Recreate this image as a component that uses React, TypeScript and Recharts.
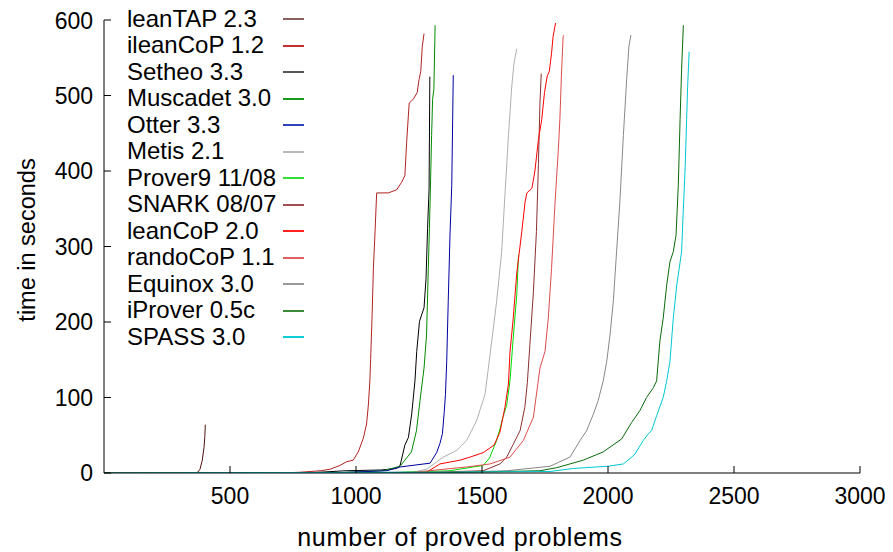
import { Legend, Line, LineChart, XAxis, YAxis } from "recharts"

type Pt = [number, number]

// time (s) against number of proved problems
const leanTAP: Pt[] = [[0, 0], [360, 0], [372, 1], [381, 5], [390, 17], [397, 34], [400, 48], [402, 64]]
const ileanCoP: Pt[] = [
  [0, 0], [700, 0], [778, 1], [860, 3], [897, 5], [936, 10], [963, 15], [989, 17], [1009, 28], [1029, 46],
  [1042, 65], [1049, 90], [1055, 122], [1058, 150], [1064, 210], [1069, 271], [1075, 315], [1082, 371],
  [1128, 371], [1161, 375], [1181, 385], [1194, 394], [1201, 438], [1211, 490], [1227, 495], [1243, 504],
  [1250, 521], [1257, 532], [1263, 565], [1270, 582],
]
const setheo: Pt[] = [
  [0, 0], [800, 0], [960, 3], [1100, 4], [1161, 6], [1175, 10], [1194, 37], [1208, 47], [1221, 78],
  [1234, 122], [1241, 161], [1252, 201], [1270, 219], [1278, 258], [1284, 324], [1290, 376], [1293, 525],
]
const muscadet: Pt[] = [
  [0, 0], [900, 0], [1108, 3], [1175, 9], [1220, 28], [1240, 56], [1254, 96], [1270, 139], [1280, 183],
  [1287, 271], [1294, 359], [1300, 447], [1304, 495], [1309, 508], [1314, 593],
]
const otter: Pt[] = [
  [0, 0], [900, 0], [1122, 3], [1175, 8], [1294, 13], [1320, 27], [1333, 39], [1343, 52], [1350, 80],
  [1355, 104], [1360, 148], [1366, 227], [1373, 315], [1380, 381], [1386, 527],
]
const metis: Pt[] = [
  [0, 0], [1000, 0], [1240, 2], [1280, 5], [1346, 21], [1400, 30], [1439, 43], [1478, 69], [1512, 104],
  [1532, 157], [1558, 227], [1578, 293], [1591, 368], [1605, 447], [1618, 512], [1627, 543], [1638, 562],
]
const prover9: Pt[] = [
  [0, 0], [1100, 0], [1373, 3], [1466, 8], [1505, 10], [1530, 20], [1558, 43], [1571, 58], [1584, 75],
  [1598, 90], [1611, 122], [1624, 179], [1638, 236], [1645, 289],
]
const snark: Pt[] = [
  [0, 0], [1200, 0], [1505, 3], [1571, 12], [1598, 21], [1624, 38], [1651, 56], [1670, 87], [1680, 120],
  [1690, 170], [1704, 240], [1716, 320], [1724, 410], [1730, 490], [1735, 529],
]
const leanCoP: Pt[] = [
  [0, 0], [1200, 0], [1280, 1], [1333, 12], [1413, 17], [1452, 21], [1505, 27], [1548, 37], [1571, 54],
  [1591, 87], [1605, 118], [1611, 160], [1624, 205], [1638, 265], [1658, 320], [1671, 359], [1678, 371],
  [1698, 377], [1710, 400], [1724, 442], [1737, 468], [1748, 504], [1759, 526], [1767, 532], [1776, 556],
  [1782, 578], [1792, 596],
]
const randoCoP: Pt[] = [
  [0, 0], [1200, 0], [1439, 8], [1532, 12], [1611, 21], [1664, 43], [1704, 74], [1730, 139], [1750, 161],
  [1763, 205], [1776, 271], [1790, 359], [1803, 429], [1809, 468], [1816, 534], [1822, 578], [1825, 580],
]
const equinox: Pt[] = [
  [0, 0], [1300, 0], [1600, 3], [1770, 9], [1849, 21], [1889, 43], [1915, 56], [1942, 78], [1961, 96],
  [1981, 122], [1995, 148], [2008, 183], [2021, 227], [2034, 293], [2047, 359], [2061, 447], [2074, 521],
  [2083, 565], [2091, 580],
]
const iProver: Pt[] = [
  [0, 0], [1300, 0], [1730, 3], [1796, 7], [1902, 17], [1981, 28], [2054, 45], [2094, 67], [2127, 83],
  [2153, 100], [2180, 113], [2193, 122], [2206, 175], [2219, 205], [2233, 249], [2246, 280], [2259, 293],
  [2270, 315], [2279, 381], [2286, 468], [2292, 534], [2299, 593],
]
const spass: Pt[] = [
  [0, 0], [1333, 1], [1770, 2], [1862, 6], [2001, 9], [2061, 12], [2087, 19], [2107, 25], [2127, 36],
  [2140, 43], [2160, 52], [2173, 56], [2193, 76], [2219, 100], [2233, 122], [2246, 148], [2259, 205],
  [2273, 249], [2292, 293], [2299, 350], [2306, 403], [2312, 468], [2316, 512], [2322, 558],
]

const xTicks = [500, 1000, 1500, 2000, 2500, 3000]
const yTicks = [0, 100, 200, 300, 400, 500, 600]

const series = [
  { name: "leanTAP 2.3", color: "#501010", key: "#8a6060", points: leanTAP },
  { name: "ileanCoP 1.2", color: "#b22222", key: "#c03030", points: ileanCoP },
  { name: "Setheo 3.3", color: "#000000", key: "#555555", points: setheo },
  { name: "Muscadet 3.0", color: "#008a00", key: "#1a9a1a", points: muscadet },
  { name: "Otter 3.3", color: "#0000a0", key: "#3344bb", points: otter },
  { name: "Metis 2.1", color: "#b0b0b0", key: "#b8b8b8", points: metis },
  { name: "Prover9 11/08", color: "#00dd00", key: "#33dd33", points: prover9 },
  { name: "SNARK 08/07", color: "#8b3030", key: "#a05050", points: snark },
  { name: "leanCoP 2.0", color: "#ff0000", key: "#ff2020", points: leanCoP },
  { name: "randoCoP 1.1", color: "#dc4c4c", key: "#dc6060", points: randoCoP },
  { name: "Equinox 3.0", color: "#888888", key: "#999999", points: equinox },
  { name: "iProver 0.5c", color: "#0a6a0a", key: "#3a8a3a", points: iProver },
  { name: "SPASS 3.0", color: "#00c8d2", key: "#10cdd6", points: spass },
]

const FONT = '"Liberation Sans", Arial, sans-serif'

function KeyBox() {
  return (
    <div style={{ fontFamily: FONT, fontSize: 24, color: "#000" }}>
      {series.map((s) => (
        <div key={s.name} style={{ position: "relative", height: 26.5, lineHeight: "26.5px", whiteSpace: "nowrap" }}>
          <span>{s.name}</span>
          <div style={{ position: "absolute", left: 156, top: 12.5, width: 21, height: 2, backgroundColor: s.key }} />
        </div>
      ))}
    </div>
  )
}

export default function App() {
  return (
    <LineChart width={877} height={544} margin={{ top: 12, right: 25, left: 0, bottom: 0 }} style={{ fontFamily: FONT }}>
      <XAxis
        dataKey="x"
        type="number"
        domain={[0, 3000]}
        ticks={xTicks}
        allowDataOverflow
        height={79}
        tickSize={-7}
        tickMargin={22}
        stroke="#000"
        tick={{ fill: "#000", fontSize: 23, fontFamily: FONT }}
        label={(props: any) => {
          const vb = props.viewBox
          return (
            <text x={vb.x + vb.width / 2 - 22} y={vb.y + vb.height - 6} textAnchor="middle" fontSize={25} letterSpacing={0.8} fill="#000" fontFamily={FONT}>
              number of proved problems
            </text>
          )
        }}
      />
      <YAxis
        type="number"
        domain={[0, 600]}
        ticks={yTicks}
        allowDataOverflow
        width={96}
        tickSize={-7}
        tickMargin={18}
        stroke="#000"
        tick={{ fill: "#000", fontSize: 23, fontFamily: FONT }}
        label={(props: any) => {
          const vb = props.viewBox
          const cx = 27
          const cy = vb.y + vb.height / 2 - 6.5
          return (
            <text x={cx} y={cy} transform={`rotate(-90 ${cx} ${cy})`} textAnchor="middle" fontSize={23.5} fill="#000" fontFamily={FONT}>
              time in seconds
            </text>
          )
        }}
      />
      <Legend layout="vertical" align="center" verticalAlign="middle" wrapperStyle={{ left: 119, top: -2.5, width: 200 }} content={() => <KeyBox />} />
      {series.map((s) => (
        <Line
          key={s.name}
          name={s.name}
          data={s.points.map(([x, y]) => ({ x, y }))}
          dataKey="y"
          stroke={s.color}
          strokeWidth={1}
          dot={false}
          activeDot={false}
          type="linear"
          isAnimationActive={false}
        />
      ))}
    </LineChart>
  )
}
